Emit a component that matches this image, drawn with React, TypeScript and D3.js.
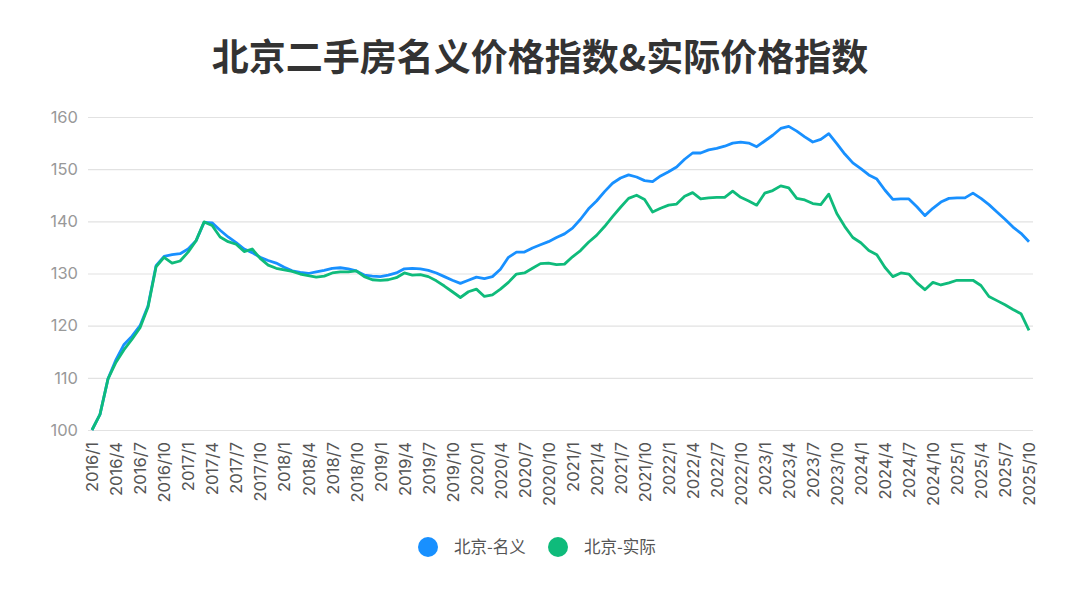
import { useEffect, useRef } from "react";
import * as d3 from "d3";

const years = [2016, 2017, 2018, 2019, 2020, 2021, 2022, 2023, 2024, 2025];

// monthly index values, 2016/1 .. 2025/10
const nominal = [
  100, 103, 109.8, 113.5, 116.4, 118, 120, 123.8, 131.5, 133.3, 133.6, 133.8,
  134.7, 136.3, 139.8, 139.7, 138.3, 137, 135.9, 134.7, 134, 133.1, 132.5, 132,
  131.2, 130.5, 130.2, 130, 130.3, 130.6, 131, 131.1, 130.9, 130.5, 129.7, 129.5,
  129.4, 129.7, 130.1, 130.9, 131, 130.9, 130.6, 130.1, 129.4, 128.7, 128.1, 128.7,
  129.3, 129, 129.4, 130.8, 133.1, 134.1, 134.1, 134.9, 135.5, 136.1, 136.9, 137.6,
  138.7, 140.4, 142.4, 143.9, 145.7, 147.3, 148.3, 148.9, 148.5, 147.8, 147.6, 148.7,
  149.5, 150.4, 151.9, 153.1, 153.1, 153.7, 154, 154.4, 155, 155.2, 155, 154.3,
  155.4, 156.5, 157.8, 158.2, 157.3, 156.2, 155.2, 155.7, 156.8, 154.9, 152.9, 151.2,
  150.1, 148.9, 148.1, 146, 144.2, 144.3, 144.3, 142.8, 141.1, 142.5, 143.7, 144.4,
  144.5, 144.5, 145.4, 144.4, 143.2, 141.8, 140.4, 138.9, 137.7, 136.1,
];

const real = [
  100, 103, 109.8, 113, 115.4, 117.4, 119.6, 123.6, 131.3, 133.1, 132, 132.4,
  134.1, 136.3, 139.9, 139.2, 137, 136.1, 135.6, 134.2, 134.7, 132.9, 131.6, 131,
  130.7, 130.4, 129.9, 129.6, 129.3, 129.5, 130.1, 130.3, 130.3, 130.5, 129.4, 128.8,
  128.7, 128.8, 129.2, 130.1, 129.7, 129.8, 129.4, 128.6, 127.6, 126.5, 125.4, 126.5,
  127, 125.6, 125.9, 127, 128.3, 129.9, 130.1, 131, 131.9, 132, 131.7, 131.8,
  133.2, 134.4, 136, 137.3, 139, 140.9, 142.7, 144.4, 145, 144.2, 141.8, 142.5,
  143.1, 143.3, 144.8, 145.5, 144.3, 144.5, 144.6, 144.6, 145.8, 144.6, 143.9, 143.1,
  145.4, 145.9, 146.8, 146.4, 144.4, 144.1, 143.4, 143.2, 145.2, 141.5, 139, 136.9,
  135.9, 134.4, 133.6, 131.2, 129.4, 130.1, 129.9, 128.2, 126.9, 128.3, 127.8, 128.2,
  128.7, 128.7, 128.7, 127.7, 125.6, 124.8, 124, 123.1, 122.3, 119.1,
];

const months = years.flatMap((y) =>
  d3.range(1, 13).map((m) => `${y}/${m}`)
).slice(0, nominal.length);

const yTicks = [100, 110, 120, 130, 140, 150, 160];

const seriesNames = ["北京-名义", "北京-实际"];
const colors = ["#1890ff", "#0fbb7b"];

const App = () => {
  const svgRef = useRef<SVGSVGElement | null>(null);

  useEffect(() => {
    const svg = d3.select(svgRef.current);
    svg.selectAll("*").remove();

    const width = 1080,
      height = 606;
    const margin = { top: 117, right: 51, bottom: 176, left: 92 };
    const innerWidth = width - margin.left - margin.right;
    const innerHeight = height - margin.top - margin.bottom;

    svg
      .append("rect")
      .attr("width", width)
      .attr("height", height)
      .attr("fill", "#fff");

    svg
      .append("text")
      .attr("x", width / 2)
      .attr("y", 71)
      .attr("text-anchor", "middle")
      .attr("font-size", 37)
      .attr("font-weight", 700)
      .attr("fill", "#333")
      .attr("font-family", "'Noto Sans CJK SC', sans-serif")
      .text("北京二手房名义价格指数&实际价格指数");

    const xScale = d3
      .scalePoint<string>()
      .domain(months)
      .range([0, innerWidth]);

    const yScale = d3.scaleLinear().domain([100, 160]).range([innerHeight, 0]);

    const g = svg
      .append("g")
      .attr("transform", `translate(${margin.left},${margin.top})`);

    // grid + y labels
    const yAxis = g
      .append("g")
      .call(
        d3
          .axisLeft(yScale)
          .tickValues(yTicks)
          .tickSize(-innerWidth - 8)
          .tickPadding(10)
      )
      .attr("transform", "translate(-4,0)");
    yAxis.select(".domain").remove();
    yAxis
      .selectAll(".tick line")
      .attr("stroke", "#e2e2e2")
      .attr("stroke-width", 1.2);
    yAxis
      .selectAll(".tick text")
      .attr("fill", "#999")
      .attr("font-size", 16.5)
      .attr("font-family", "Inter, 'Noto Sans', sans-serif");

    // x labels
    const xAxis = g
      .append("g")
      .attr("transform", `translate(0,${innerHeight})`)
      .call(
        d3
          .axisBottom(xScale)
          .tickValues(months.filter((_, i) => i % 3 === 0))
          .tickSize(0)
          .tickPadding(10)
      );
    xAxis.select(".domain").remove();
    xAxis
      .selectAll(".tick text")
      .attr("transform", "rotate(-90)")
      .attr("text-anchor", "end")
      .attr("dx", "-12")
      .attr("dy", "0.35em")
      .attr("y", 0)
      .attr("fill", "#555")
      .attr("font-size", 16.5)
      .attr("font-family", "Inter, 'Noto Sans', sans-serif");

    const line = d3
      .line<number>()
      .x((_, i) => xScale(months[i])!)
      .y((d) => yScale(d));

    [nominal, real].forEach((s, k) => {
      g.append("path")
        .datum(s)
        .attr("fill", "none")
        .attr("stroke", colors[k])
        .attr("stroke-width", 2.8)
        .attr("stroke-linejoin", "round")
        .attr("d", line);
    });

    // legend
    const legendX = [428, 558];
    seriesNames.forEach((name, k) => {
      svg
        .append("circle")
        .attr("cx", legendX[k])
        .attr("cy", 547)
        .attr("r", 10)
        .attr("fill", colors[k]);
      svg
        .append("text")
        .attr("x", legendX[k] + 26)
        .attr("y", 547)
        .attr("dy", "0.35em")
        .attr("font-size", 16.5)
        .attr("fill", "#555")
        .attr("font-family", "'Noto Sans CJK SC', sans-serif")
        .text(name);
    });
  }, []);

  return (
    <svg
      ref={svgRef}
      width={1080}
      height={606}
      style={{ position: "absolute", left: 0, top: 0 }}
    ></svg>
  );
};

export default App;
